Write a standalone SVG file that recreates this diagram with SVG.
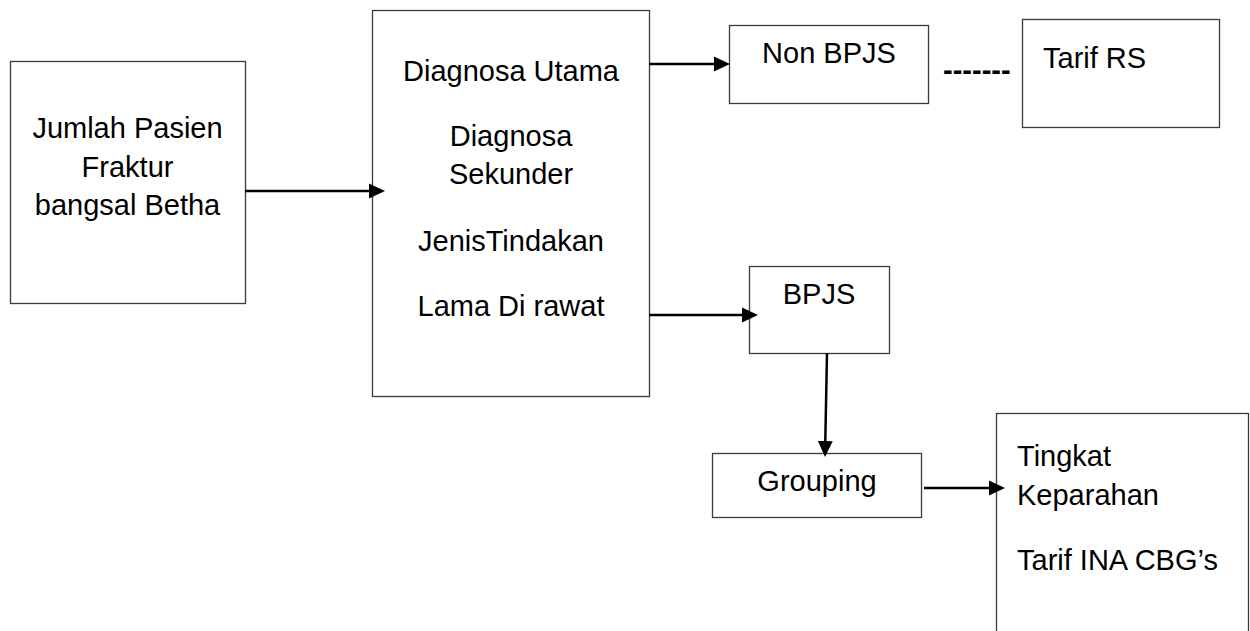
<svg xmlns="http://www.w3.org/2000/svg" width="1250" height="631" viewBox="0 0 1250 631">
<style>
.box{fill:#fff;stroke:#3a3a3a;stroke-width:1.3}
.t{font-family:"Liberation Sans",Arial,sans-serif;font-size:29px;fill:#000}
.c{text-anchor:middle}
.con{stroke:#000;stroke-width:2.5;fill:none}
</style>
<defs>
<marker id="ah" markerUnits="userSpaceOnUse" markerWidth="16" markerHeight="16" viewBox="0 0 15 14" refX="0" refY="7" orient="auto">
<path d="M0,0 L15,7 L0,14 Z" fill="#000"/>
</marker>
</defs>
<rect width="1250" height="631" fill="#fff"/>
<g id="n1">
<rect class="box" x="10.5" y="61.5" width="235" height="242"/>
<text class="t c" x="127.5" y="138">Jumlah Pasien</text>
<text class="t c" x="127.5" y="177">Fraktur</text>
<text class="t c" x="127.5" y="215">bangsal Betha</text>
</g>
<g id="n2">
<rect class="box" x="372.5" y="10.5" width="277" height="386"/>
<text class="t c" x="511" y="81">Diagnosa Utama</text>
<text class="t c" x="511" y="146">Diagnosa</text>
<text class="t c" x="511" y="184">Sekunder</text>
<text class="t c" x="511" y="251">JenisTindakan</text>
<text class="t c" x="511" y="316">Lama Di rawat</text>
</g>
<g id="n3">
<rect class="box" x="729.5" y="25.5" width="199" height="78"/>
<text class="t c" x="829" y="63">Non BPJS</text>
</g>
<g id="n4">
<rect class="box" x="1022.5" y="19.5" width="197" height="108"/>
<text class="t" x="1043" y="68">Tarif RS</text>
</g>
<g id="n5">
<rect class="box" x="749.5" y="266.5" width="140" height="87"/>
<text class="t c" x="819" y="304">BPJS</text>
</g>
<g id="n6">
<rect class="box" x="712.5" y="453.5" width="209" height="64"/>
<text class="t c" x="817" y="491">Grouping</text>
</g>
<g id="n7">
<rect class="box" x="996.5" y="413.5" width="252" height="240"/>
<text class="t" x="1017" y="466">Tingkat</text>
<text class="t" x="1017" y="505">Keparahan</text>
<text class="t" x="1017" y="570">Tarif INA CBG’s</text>
</g>
<g id="connectors">
<line class="con" x1="245" y1="191" x2="369" y2="191" marker-end="url(#ah)"/>
<line class="con" x1="649" y1="64" x2="714" y2="64" marker-end="url(#ah)"/>
<line class="con" x1="649" y1="315" x2="742" y2="315" marker-end="url(#ah)"/>
<line class="con" x1="827" y1="353" x2="825.3" y2="441" marker-end="url(#ah)"/>
<line class="con" x1="924" y1="488" x2="989" y2="488" marker-end="url(#ah)"/>
<text class="t" x="943" y="80" style="font-weight:bold">-------</text>
</g>
</svg>
